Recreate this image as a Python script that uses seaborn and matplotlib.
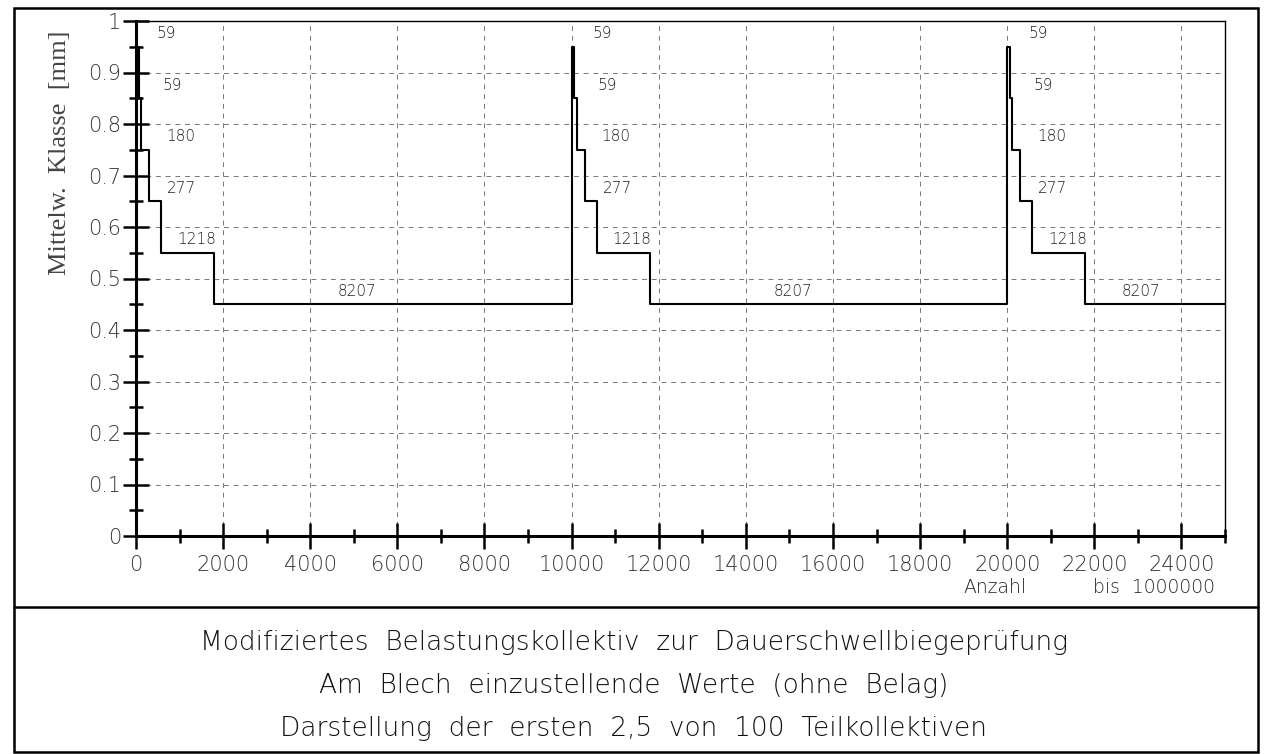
import numpy as np
import pandas as pd
import matplotlib
matplotlib.use("Agg")
import matplotlib.pyplot as plt
import seaborn as sns
from matplotlib.ticker import MultipleLocator, FuncFormatter

# ---- data ----
counts = [59, 59, 180, 277, 1218, 8207]
levels = [0.95, 0.85, 0.75, 0.65, 0.55, 0.45]
count_labels = ["59", "59", "180", "277", "1218", "8207"]
block_starts = [0, 10000, 20000]
x_end = 25000
x_ticks = list(range(0, 26000, 2000))
y_ticks = [0, 0.1, 0.2, 0.3, 0.4, 0.5, 0.6, 0.7, 0.8, 0.9, 1.0]
title_lines = [
    "Modifiziertes  Belastungskollektiv  zur  Dauerschwellbiegeprüfung",
    "Am  Blech  einzustellende  Werte  (ohne  Belag)",
    "Darstellung  der  ersten  2,5  von  100  Teilkollektiven",
]
ylabel = "Mittelw.  Klasse  [mm]"

# ---- build step table ----
xs, ys = [], []
for b in block_starts:
    cum = b
    for c, lv in zip(counts, levels):
        if cum >= x_end:
            break
        xs.append(cum)
        ys.append(lv)
        cum += c
xs.append(x_end)
ys.append(levels[-1])
df = pd.DataFrame({"Anzahl": xs, "Klasse": ys})

sns.set_theme(style="white")
plt.rcParams["font.family"] = ["DejaVu Sans"]

W, H = 1267, 754
fig = plt.figure(figsize=(W / 100, H / 100), dpi=100)

def fx(px):
    return px / W

def fy(py):
    return 1 - py / H

ax = fig.add_axes([fx(136), fy(536), fx(1225) - fx(136), fy(21) - fy(536)])

sns.lineplot(data=df, x="Anzahl", y="Klasse", ax=ax, drawstyle="steps-post",
             color="black", linewidth=1.5, sort=False, estimator=None)

ax.set_xlim(0, x_end)
ax.set_ylim(0, 1)
ax.set_xticks(x_ticks)
ax.set_yticks(y_ticks)
ax.xaxis.set_minor_locator(MultipleLocator(1000))
ax.yaxis.set_minor_locator(MultipleLocator(0.05))
ax.yaxis.set_major_formatter(FuncFormatter(lambda v, p: ("%g" % v)))
ax.set_xlabel("")
ax.set_ylabel("")

ax.grid(True, which="major", color="#777777", linestyle=(0, (5, 5)), linewidth=0.7)
for s in ["top", "right"]:
    ax.spines[s].set_linewidth(1.0)
    ax.spines[s].set_color("black")
for s in ["left", "bottom"]:
    ax.spines[s].set_linewidth(2.2)
    ax.spines[s].set_color("black")

ax.tick_params(axis="both", which="major", direction="inout", length=19, width=1.8,
               color="black", labelsize=15, labelcolor="#333333")
ax.tick_params(axis="both", which="minor", direction="inout", length=10, width=1.8,
               color="black")
ax.tick_params(axis="y", which="major", pad=1)
ax.tick_params(axis="x", which="major", pad=4)
ax.tick_params(top=False, right=False, which="both")
ax.tick_params(left=True, bottom=True, which="both")
for lab in ax.get_xticklabels() + ax.get_yticklabels():
    lab.set_fontweight("light")

# count labels
label_dx = [480, 600, 690, 710, 940]
for b in block_starts:
    for i, (lab, lv) in enumerate(zip(count_labels, levels)):
        if i < len(label_dx):
            ax.text(b + label_dx[i], lv + 0.025, lab, ha="left", va="center",
                    fontsize=11, fontweight="light", color="#222222")
        else:
            seg_start = b + sum(counts[:-1])
            seg_end = min(b + sum(counts), x_end)
            xc = seg_start + 0.40 * (seg_end - seg_start)
            ax.text(xc, lv + 0.025, lab, ha="center", va="center",
                    fontsize=11, fontweight="light", color="#222222")

# y label
fig.text(fx(60), fy(153), ylabel, rotation=90, ha="center", va="center",
         fontsize=19, family=["Liberation Serif"], color="#444444")

# Anzahl / bis
fig.text(fx(995), fy(593), "Anzahl", ha="center", va="baseline", fontsize=13.5,
         fontweight="light", color="#222222")
fig.text(fx(1215), fy(593), "bis  1000000", ha="right", va="baseline", fontsize=13.5,
         fontweight="light", color="#222222")

# frame
frame = plt.Rectangle((fx(14), fy(752)), fx(1258) - fx(14), fy(8) - fy(752),
                      transform=fig.transFigure, fill=False, edgecolor="black",
                      linewidth=1.8)
fig.add_artist(frame)
fig.add_artist(plt.Line2D([fx(14), fx(1258)], [fy(607), fy(607)],
                          transform=fig.transFigure, color="black", linewidth=1.8))

# titles
for t, py in zip(title_lines, [650, 693, 736]):
    fig.text(fx(634), fy(py), t, ha="center", va="baseline", fontsize=19,
             fontweight="light", color="#111111")

fig.savefig("out.png", dpi=100)
